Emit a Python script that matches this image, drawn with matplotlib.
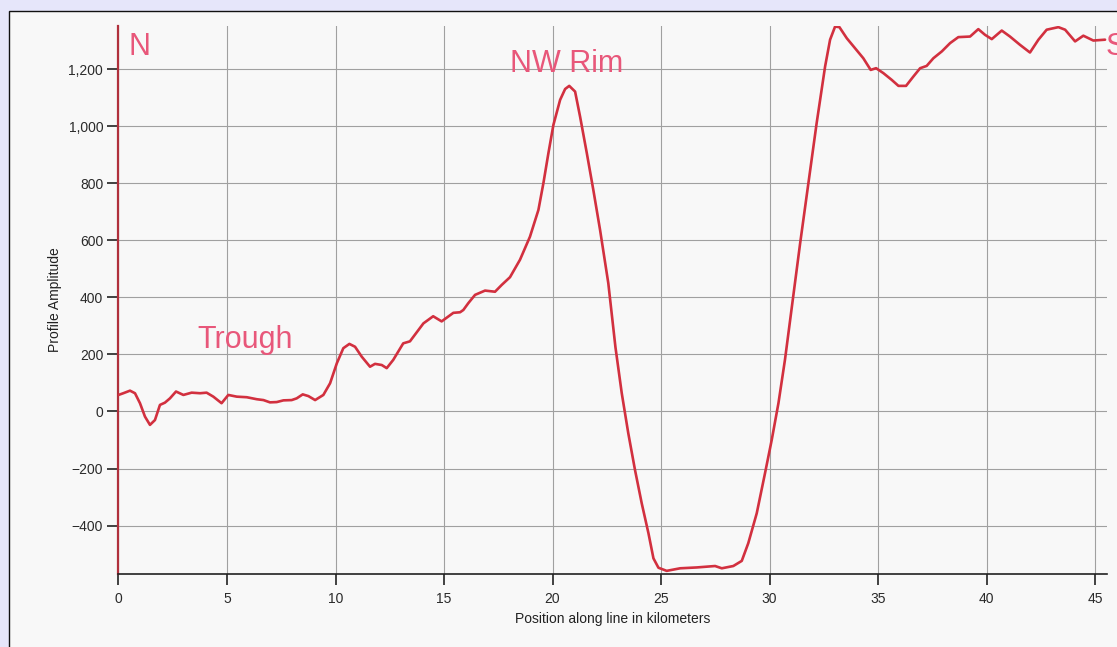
import matplotlib
matplotlib.use("Agg")
import matplotlib.pyplot as plt
from matplotlib.patches import Rectangle
from matplotlib.ticker import FuncFormatter, MultipleLocator

# profile: distance (km) and amplitude
distance_km = [
    0.00, 0.22, 0.53, 0.76, 0.99, 1.22, 1.45, 1.68, 1.91, 2.14, 2.37, 2.65, 2.99,
    3.37, 3.76, 4.06, 4.37, 4.75, 5.06, 5.45, 5.91, 6.37, 6.68, 6.98, 7.29, 7.60,
    7.98, 8.21, 8.49, 8.75, 9.06, 9.44, 9.75, 10.06, 10.36, 10.64, 10.90, 11.21,
    11.59, 11.82, 12.13, 12.36, 12.66, 13.12, 13.43, 14.05, 14.50, 14.89, 15.20,
    15.43, 15.74, 15.89, 16.12, 16.43, 16.89, 17.35, 17.66, 18.04, 18.50, 18.96,
    19.35, 19.58, 19.81, 20.04, 20.35, 20.58, 20.77, 21.04, 21.27, 21.58, 21.88,
    22.19, 22.57, 22.90, 23.19, 23.49, 23.80, 24.11, 24.42, 24.65, 24.88, 25.26,
    25.88, 26.65, 27.49, 27.80, 28.33, 28.72, 29.02, 29.41, 29.79, 30.10, 30.41,
    30.71, 31.05, 31.41, 31.79, 32.17, 32.56, 32.79, 33.02, 33.22, 33.56, 33.94,
    34.32, 34.66, 34.91, 35.24, 35.63, 35.94, 36.29, 36.63, 36.94, 37.24, 37.55,
    37.94, 38.32, 38.70, 39.24, 39.62, 39.93, 40.24, 40.70, 41.08, 41.54, 42.00,
    42.39, 42.77, 43.31, 43.62, 44.08, 44.46, 44.92, 45.46,
]
amplitude = [
    58, 64, 73, 64, 29, -18, -47, -30, 23, 31, 46, 70, 58,
    66, 64, 66, 52, 29, 58, 52, 50, 43, 40, 32, 33, 39,
    40, 46, 60, 54, 40, 58, 99, 169, 222, 237, 227, 192,
    157, 167, 163, 152, 181, 239, 246, 309, 334, 316, 333,
    346, 348, 356, 380, 409, 424, 420, 444, 471, 532, 613,
    707, 801, 906, 1005, 1093, 1131, 1142, 1122, 1034, 906, 777,
    637, 450, 225, 64, -76, -205, -322, -427, -515, -548, -559,
    -550, -547, -542, -550, -542, -524, -462, -357, -217, -100, 29,
    181, 380, 590, 801, 1011, 1210, 1304, 1350, 1348, 1309, 1274,
    1239, 1198, 1204, 1187, 1163, 1142, 1142, 1175, 1204, 1212, 1239,
    1263, 1292, 1313, 1315, 1341, 1321, 1306, 1336, 1315, 1286, 1259,
    1304, 1339, 1348, 1339, 1298, 1318, 1301, 1304,
]

# annotations: (text, km, amplitude at baseline)
labels = [
    ("N", 0.44, 1251),
    ("NW Rim", 18.04, 1192),
    ("Trough", 3.63, 222),
    ("S", 45.5, 1251),
]

plt.rcParams["font.family"] = ["Liberation Sans", "DejaVu Sans"]

fig = plt.figure(figsize=(11.17, 6.47), dpi=100)
fig.patch.set_facecolor("#e6e6fa")
# light panel with a thin dark border behind the chart
fig.patches.append(Rectangle((9 / 1117, -0.1), 1.2, (647 - 11) / 647 + 0.1,
                             transform=fig.transFigure, facecolor="#f8f8f8",
                             edgecolor="#111111", linewidth=1.0, zorder=-10))

ax = fig.add_axes([118.5 / 1117, 73 / 647, (1107 - 118.5) / 1117, (574 - 26) / 647])
ax.set_facecolor("none")

ax.plot(distance_km, amplitude, color="#d2303f", linewidth=1.9,
        solid_joinstyle="round", solid_capstyle="round", zorder=3)

ax.set_xlim(0, 45.55)
ax.set_ylim(-570, 1352)

ax.xaxis.set_major_locator(MultipleLocator(5))
ax.yaxis.set_major_locator(MultipleLocator(200))
ax.yaxis.set_major_formatter(FuncFormatter(
    lambda v, _: f"{v:,.0f}".replace("-", "\u2212")))

ax.grid(True, color="#a0a0a0", linewidth=0.8)
ax.set_axisbelow(True)

for side in ("top", "right"):
    ax.spines[side].set_visible(False)
ax.spines["left"].set_color("#b0303c")
ax.spines["left"].set_linewidth(1.6)
ax.spines["bottom"].set_color("#222222")
ax.spines["bottom"].set_linewidth(1.2)

ax.tick_params(axis="both", direction="out", length=8, width=1.2,
               color="#222222", labelcolor="#2a2a2a", labelsize=10)
ax.tick_params(axis="y", pad=3)
ax.tick_params(axis="x", pad=5)

ax.set_xlabel("Position along line in kilometers", fontsize=10, color="#222222", labelpad=4.5)
ax.set_ylabel("Profile Amplitude", fontsize=10, color="#222222", labelpad=5)

for text, x, y in labels:
    ax.text(x, y, text, color="#e8577a", fontsize=22, ha="left", va="baseline",
            clip_on=False, zorder=4)

fig.savefig("out.png", dpi=100, facecolor=fig.get_facecolor())
